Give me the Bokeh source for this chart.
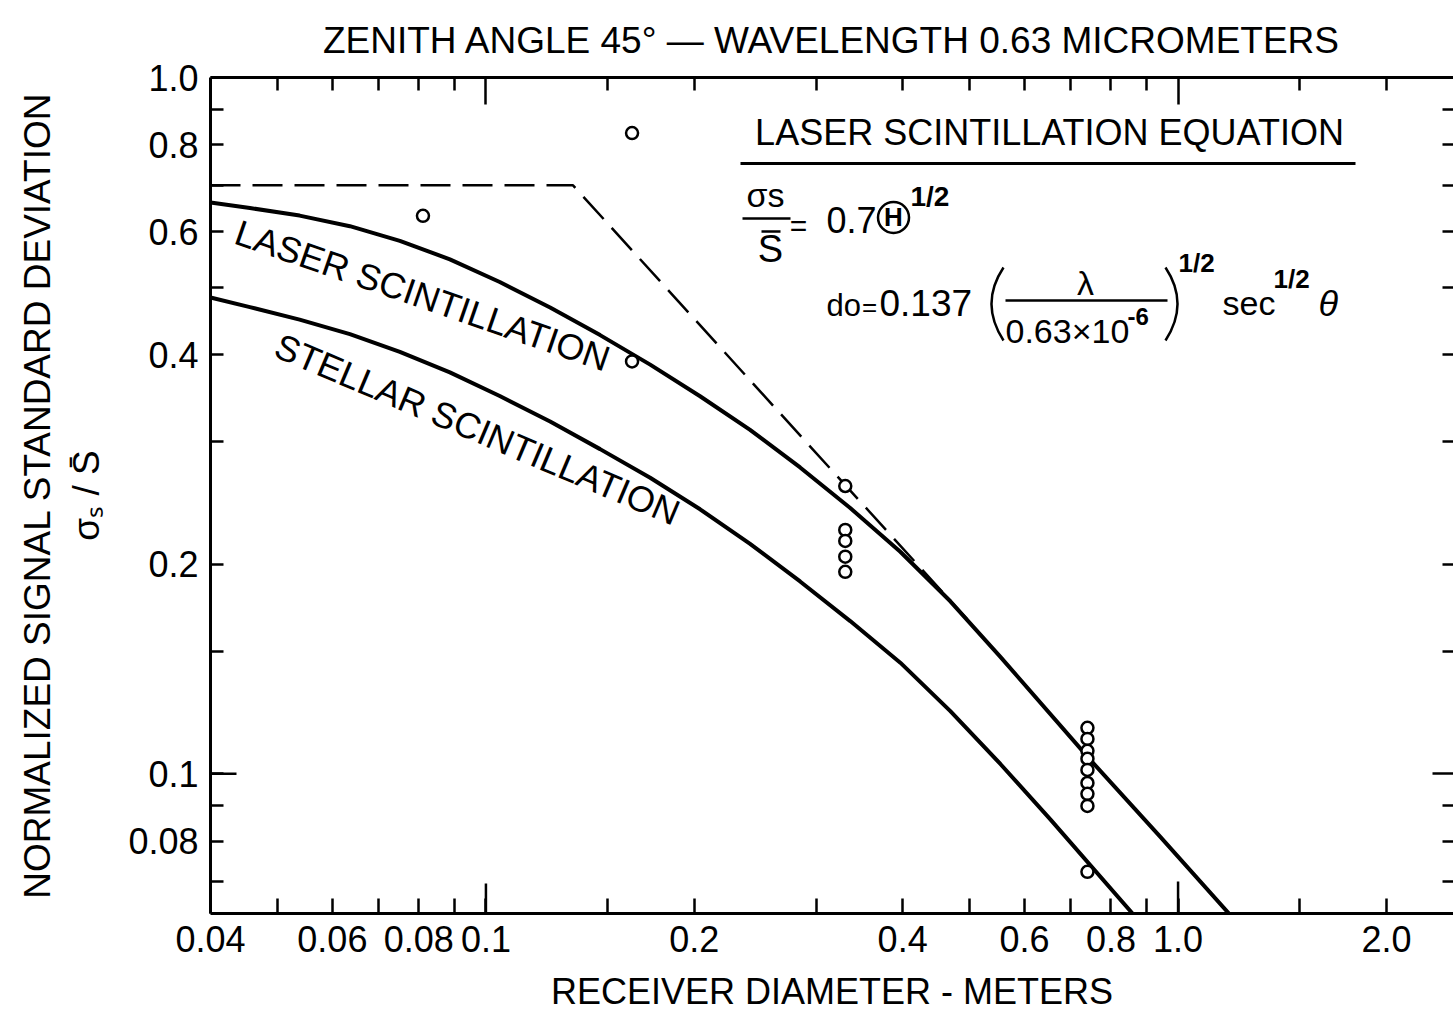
from math import log10, radians, sin, cos
from bokeh.plotting import figure
from bokeh.models import (LogAxis, FixedTicker, CustomJSTickFormatter, Label, Range1d)
from bokeh.embed import file_html
from bokeh.resources import INLINE

# ---------------- data ----------------
laser_d = [0.04, 0.0456, 0.0538, 0.0636, 0.0751, 0.0887, 0.1047, 0.1238, 0.1462, 0.1727,
           0.2039, 0.2408, 0.2844, 0.336, 0.3969, 0.4688, 0.5537, 0.7468, 0.9434, 1.191]
laser_s = [0.6613, 0.6495, 0.6334, 0.6116, 0.5827, 0.5481, 0.5085, 0.4673, 0.4266, 0.3869,
           0.3485, 0.3119, 0.2754, 0.2408, 0.2084, 0.1769, 0.1472, 0.1047, 0.0811, 0.0626]

stellar_d = [0.04, 0.0456, 0.0538, 0.0636, 0.0751, 0.0887, 0.1047, 0.1238, 0.1462, 0.1727,
             0.2039, 0.2408, 0.2844, 0.336, 0.3969, 0.4688, 0.5537, 0.6538, 0.8594]
stellar_s = [0.483, 0.468, 0.449, 0.4279, 0.4037, 0.3772, 0.3488, 0.3206, 0.2926, 0.2662,
             0.2398, 0.2139, 0.1889, 0.1657, 0.1444, 0.1230, 0.1033, 0.0860, 0.063]

asym_d = [0.04, 0.1336, 0.496]
asym_s = [0.7, 0.7, 0.1666]

meas_d = [0.0811, 0.1626, 0.1626, 0.3305, 0.3305, 0.3305, 0.3305, 0.3305,
          0.7397, 0.7397, 0.7397, 0.7397, 0.7397, 0.7397, 0.7397, 0.7397, 0.7397]
meas_s = [0.633, 0.832, 0.391, 0.259, 0.224, 0.216, 0.205, 0.195,
          0.1164, 0.1122, 0.1079, 0.1051, 0.1013, 0.097, 0.0936, 0.0899, 0.0723]

x_major = [0.04, 0.06, 0.08, 0.1, 0.2, 0.4, 0.6, 0.8, 1.0, 2.0]
x_minor = [0.05, 0.07, 0.09, 0.15, 0.3, 0.5, 0.7, 0.9, 1.5]
y_major = [0.08, 0.1, 0.2, 0.4, 0.6, 0.8, 1.0]
y_minor = [0.07, 0.09, 0.15, 0.3, 0.5, 0.7, 0.9]
decades = [0.1, 1.0]

TITLE = "ZENITH ANGLE 45° — WAVELENGTH 0.63 MICROMETERS"
XLABEL = "RECEIVER DIAMETER - METERS"
YLABEL = "NORMALIZED SIGNAL STANDARD DEVIATION\nσₛ / S̄"

# ---------------- layout ----------------
X0, X1 = 0.04, 2.5
Y0, Y1 = 0.063, 1.0
W, H = 1453, 1016
FL, FR, FT, FB = 210, 1453, 77, 913
FONT = "Liberation Sans"


def dx(px):
    return 10 ** (log10(X0) + (px - FL) / (FR - FL) * (log10(X1) - log10(X0)))


def dy(py):
    return 10 ** (log10(Y0) + (FB - py) / (FB - FT) * (log10(Y1) - log10(Y0)))


p = figure(width=W, height=H, x_axis_type="log", y_axis_type="log",
           x_range=Range1d(X0, X1), y_range=Range1d(Y0, Y1),
           output_backend="svg", toolbar_location=None,
           min_border_left=FL, min_border_right=W - FR,
           min_border_top=FT, min_border_bottom=H - FB)
p.outline_line_color = None
p.xgrid.visible = False
p.ygrid.visible = False
p.background_fill_color = "white"
p.border_fill_color = "white"

p.title.text = TITLE
p.title.align = "center"
p.title.text_font = FONT
p.title.text_font_size = "37px"
p.title.text_font_style = "normal"
p.title.text_color = "black"
p.title.text_line_height = 0.75
p.title.standoff = 34

fmt = CustomJSTickFormatter(code="return tick >= 1 ? tick.toFixed(1) : String(parseFloat(tick.toPrecision(2)));")


def style_axis(ax, major_in, minor_in):
    ax.axis_line_width = 3
    ax.axis_line_color = "black"
    ax.major_tick_in = major_in
    ax.major_tick_out = 0
    ax.minor_tick_in = minor_in
    ax.minor_tick_out = 0
    ax.major_tick_line_width = 2.5
    ax.minor_tick_line_width = 2.5
    ax.major_label_text_font = FONT
    ax.major_label_text_color = "black"
    ax.axis_label_text_font = FONT
    ax.axis_label_text_font_style = "normal"
    ax.axis_label_text_color = "black"


def hide_labels(ax):
    ax.major_label_text_font_size = "1px"
    ax.major_label_text_alpha = 0
    ax.major_label_standoff = 0


xb = p.below[0]
style_axis(xb, 15, 15)
xb.ticker = FixedTicker(ticks=x_major, minor_ticks=x_minor)
xb.formatter = fmt
xb.major_label_text_font_size = "36px"
xb.major_label_standoff = 12
xb.axis_label = XLABEL
xb.axis_label_text_font_size = "36px"
xb.axis_label_standoff = 16

yl = p.left[0]
style_axis(yl, 13, 13)
yl.ticker = FixedTicker(ticks=y_major, minor_ticks=y_minor)
yl.formatter = fmt
yl.major_label_text_font_size = "36px"
yl.major_label_standoff = 12
yl.axis_label = YLABEL
yl.axis_label_text_font_size = "37px"
yl.axis_label_standoff = 18

xt = LogAxis(ticker=FixedTicker(ticks=decades, minor_ticks=x_minor + [0.06, 0.08, 0.2, 0.4, 0.6, 0.8, 2.0]))
style_axis(xt, 27, 13)
hide_labels(xt)
p.add_layout(xt, "above")

yr = LogAxis(ticker=FixedTicker(ticks=[0.1], minor_ticks=y_minor + [0.08, 0.2, 0.4, 0.6, 0.8]))
style_axis(yr, 21, 11)
yr.axis_line_color = None
hide_labels(yr)
p.add_layout(yr, "right")

# long decade ticks on the left and bottom axes
p.segment(x0=[X0], y0=[0.1], x1=[dx(FL + 26)], y1=[0.1], line_width=2.5, color="black")
p.segment(x0=decades, y0=[Y0, Y0], x1=decades, y1=[dy(FB - 30), dy(FB - 32)],
          line_width=2.5, color="black")

# ---------------- curves & points ----------------
p.line(asym_d, asym_s, line_width=2.5, color="black", line_dash="30 12")
p.line(laser_d, laser_s, line_width=4, color="black")
p.line(stellar_d, stellar_s, line_width=4, color="black")
p.scatter(meas_d, meas_s, marker="circle", size=12, fill_color="white",
          line_color="black", line_width=2.5)


def lab(px, py, text, size=36, align="left", style="normal", angle=0.0):
    # (px, py) is the wanted baseline point in page pixels
    k = 0.38 * size
    ax = px - k * sin(angle)
    ay = py - k * cos(angle)
    p.add_layout(Label(x=dx(ax), y=dy(ay), text=text, text_font=FONT,
                       text_font_size=f"{size}px", text_font_style=style,
                       text_align=align, text_baseline="alphabetic",
                       text_color="black", angle=angle))


def hline(px0, px1, py, w=2.5):
    p.segment(x0=[dx(px0)], y0=[dy(py)], x1=[dx(px1)], y1=[dy(py)], line_width=w, color="black")


# curve labels
lab(417.5, 308, "LASER SCINTILLATION", 36, "center", angle=-radians(19.1))
lab(471.5, 441.5, "STELLAR SCINTILLATION", 36, "center", angle=-radians(23.0))

# equation block
lab(1049, 146, "LASER SCINTILLATION EQUATION", 36, "center")
hline(740, 1355, 163, 3)

lab(746, 207, "σs", 34)
hline(742, 790, 218)
lab(770, 263, "S", 38, "center")
hline(761, 780, 231)
lab(798, 236, "=", 30, "center")
lab(826, 233, "0.7", 36)
p.scatter([dx(893)], [dy(217)], marker="circle", size=31, fill_color=None,
          line_color="black", line_width=2.5)
lab(893, 226, "H", 26, "center", "bold")
lab(910, 207, "1/2", 28, style="bold")

lab(826, 317, "do", 31)
lab(869, 316, "=", 26, "center")
lab(879, 317, "0.137", 37)
p.quadratic(x0=[dx(1003)], y0=[dy(267)], x1=[dx(1003)], y1=[dy(340)],
            cx=[dx(979)], cy=[dy(303)], line_width=2.5, color="black")
lab(1085, 295, "λ", 34, "center")
hline(1005, 1167, 300)
lab(1005, 343, "0.63×10", 34)
lab(1127, 325, "-6", 24, style="bold")
p.quadratic(x0=[dx(1165)], y0=[dy(267)], x1=[dx(1165)], y1=[dy(340)],
            cx=[dx(1189)], cy=[dy(303)], line_width=2.5, color="black")
lab(1178, 272, "1/2", 26, style="bold")
lab(1222, 315, "sec", 34)
lab(1273, 288, "1/2", 26, style="bold")
lab(1318, 317, "θ", 36, style="italic")

open("out.html", "w").write(file_html(p, INLINE))
